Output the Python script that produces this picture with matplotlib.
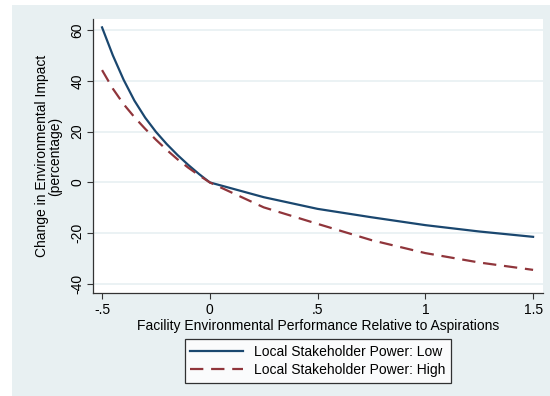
import matplotlib.pyplot as plt
from matplotlib.patches import Rectangle

plt.rcParams['font.family'] = ['Liberation Sans', 'DejaVu Sans']

# performance relative to aspirations
x_vals = [-0.5, -0.45, -0.4, -0.35, -0.3, -0.25, -0.2, -0.15, -0.1, -0.05, 0.0,
          0.25, 0.5, 0.75, 1.0, 1.25, 1.5]
# change in environmental impact (%)
low_power = [61.0, 50.0, 40.4, 32.2, 25.5, 19.9, 15.1, 10.8, 6.9, 3.3, 0.0,
             -5.8, -10.4, -13.7, -16.8, -19.3, -21.4]
high_power = [44.2, 36.9, 30.8, 25.7, 21.1, 16.8, 12.8, 9.1, 5.8, 2.8, 0.0,
              -9.8, -16.3, -22.7, -27.8, -31.5, -34.4]

x_ticks = [-0.5, 0, 0.5, 1, 1.5]
x_ticklabels = ['-.5', '0', '.5', '1', '1.5']
y_ticks = [-40, -20, 0, 20, 40, 60]

bg = '#e8f0f2'
navy = '#1a476f'
maroon = '#90353b'

fig = plt.figure(figsize=(5.5, 3.96), dpi=100)
fig.patch.set_facecolor('white')
# stata-like graph region
fig.patches.append(Rectangle((12 / 550, 0), 1, 1 - 5 / 396, transform=fig.transFigure,
                             facecolor=bg, edgecolor='none', zorder=-1))

ax = fig.add_axes([93 / 550, 1 - 293 / 396, 450 / 550, 274 / 396])
ax.set_facecolor('white')

for y in y_ticks:
    ax.axhline(y, color=bg, lw=1.2, zorder=0)

ax.plot(x_vals, low_power, color=navy, lw=1.6, label='Local Stakeholder Power: Low')
ax.plot(x_vals, high_power, color=maroon, lw=1.6, dashes=(6, 3.5),
        label='Local Stakeholder Power: High')

ax.set_xlim(-0.542, 1.546)
ax.set_ylim(-43.5, 64.3)
ax.set_xticks(x_ticks)
ax.set_xticklabels(x_ticklabels)
ax.set_yticks(y_ticks)
ax.set_yticklabels([str(v) for v in y_ticks], rotation=90, va='center')
ax.tick_params(labelsize=10, length=4, width=0.8, colors='#333333', labelcolor='black')
ax.tick_params(axis='y', pad=2)

for side in ['top', 'right']:
    ax.spines[side].set_visible(False)
for side in ['left', 'bottom']:
    ax.spines[side].set_color('#333333')
    ax.spines[side].set_linewidth(0.9)

ax.set_xlabel('Facility Environmental Performance Relative to Aspirations', fontsize=10, labelpad=1)
ax.set_ylabel('Change in Environmental Impact\n(percentage)', fontsize=10, labelpad=6,
              linespacing=0.95)

leg = fig.legend(loc='center', bbox_to_anchor=(318 / 550, 1 - 361 / 396), fontsize=10,
                 frameon=True, fancybox=False, edgecolor='black', handlelength=3.8,
                 borderpad=0.4, labelspacing=0.3)
leg.get_frame().set_linewidth(0.9)

fig.savefig('out.png', dpi=100, facecolor=fig.get_facecolor())
